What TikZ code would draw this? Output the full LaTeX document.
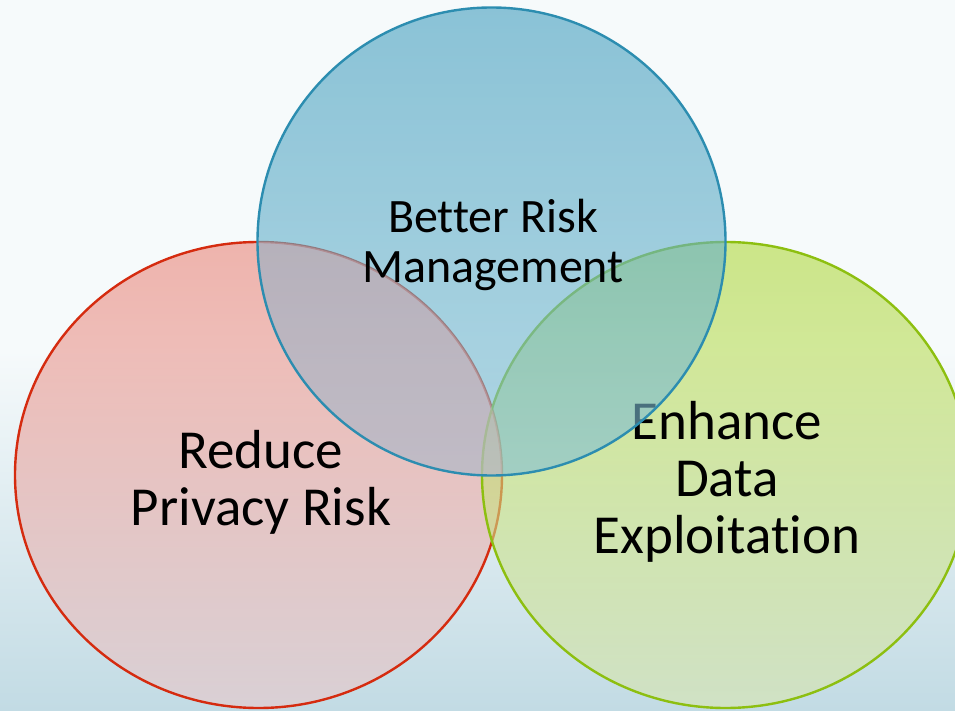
\documentclass[tikz,border=0pt]{standalone}
\usepackage{fontspec}
\setmainfont{Carlito}[Ligatures={NoCommon}]
\usepackage{tikz}
\usetikzlibrary{positioning}
\definecolor{bgtop}{HTML}{F6FAFB}
\definecolor{bgbot}{HTML}{C2DBE4}
\definecolor{redtop}{HTML}{E98579}
\definecolor{redbot}{HTML}{E9C9CB}
\definecolor{redline}{HTML}{D52B0F}
\definecolor{redtint}{HTML}{EAB2B8}
\definecolor{greentop}{HTML}{AFD93C}
\definecolor{greenbot}{HTML}{D9E6B1}
\definecolor{greenline}{HTML}{8DBF10}
\definecolor{bluetop}{HTML}{439EBE}
\definecolor{bluebot}{HTML}{84C0D5}
\definecolor{blueline}{HTML}{2C8DB0}
\tikzset{
  ring/.style={line width=2.4pt},
  disc/.style={fill opacity=0.6},
  lbl/.style={align=center,text=black,inner sep=0pt,font=\fontsize{55}{57}\selectfont},
  toplbl/.style={lbl,font=\fontsize{48}{50}\selectfont}
}

\begin{document}
\begin{tikzpicture}[x=1pt,y=1pt]
\useasboundingbox (0,0) rectangle (955,710);
\clip (0,0) rectangle (955,710);
% backdrop
\fill[bgtop] (0,0) rectangle (955,710);
\shade[top color=bgtop,bottom color=bgbot] (0,0) rectangle (955,360);
% left set
\shade[disc,top color=redtop,bottom color=redbot] (258.5,235) ellipse (243.5 and 233);
\draw[ring,redline] (258.5,235) ellipse (243.5 and 233);
\node[lbl] (privacy) at (261,228) {Reduce\\Privacy Risk};
% right set
\shade[disc,top color=greentop,bottom color=greenbot] (725.5,235) ellipse (243.5 and 233);
\draw[ring,greenline] (725.5,235) ellipse (243.5 and 233);
\node[lbl] (exploit) at (727,228) {Enhance\\Data\\Exploitation};
% top set
\shade[disc,top color=bluetop,bottom color=bluebot] (491.5,468.5) circle (234);
\begin{scope}
  \clip (258.5,235) ellipse (243.5 and 233);
  \fill[redtint,fill opacity=0.35] (491.5,468.5) circle (234);
\end{scope}
\draw[ring,blueline] (491.5,468.5) circle (234);
\node[toplbl] (riskmgmt) at (493,465) {Better Risk\\Management};
\end{tikzpicture}
\end{document}
